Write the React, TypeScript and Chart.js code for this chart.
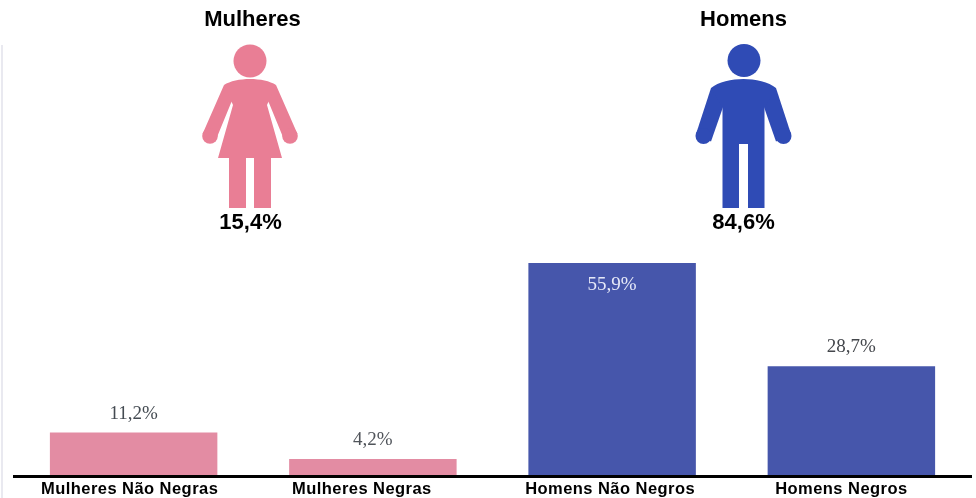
import React, { useEffect, useRef } from "react";
import { Chart, registerables } from "chart.js";

Chart.register(...registerables);

const categories = ["Mulheres Não Negras", "Mulheres Negras", "Homens Não Negros", "Homens Negros"];
const shares = [11.2, 4.2, 55.9, 28.7];
const shareLabels = ["11,2%", "4,2%", "55,9%", "28,7%"];
const barColors = ["#E38CA3", "#E38CA3", "#4656AB", "#4656AB"];
const labelColors = ["#444b52", "#50545a", "#e6e9f8", "#44474c"];
const labelInside = [false, false, true, false];
const tickShift = [-4, -11, -2, -10];
const groupTitles = ["Mulheres", "Homens"];
const groupTotals = ["15,4%", "84,6%"];

const SANS = '"Liberation Sans", Arial, sans-serif';
const SERIF = '"Liberation Serif", "Times New Roman", serif';

function fillPoly(ctx: CanvasRenderingContext2D, pts: number[][]) {
  ctx.beginPath();
  pts.forEach(([x, y], i) => (i ? ctx.lineTo(x, y) : ctx.moveTo(x, y)));
  ctx.closePath();
  ctx.fill();
}

function drawWoman(ctx: CanvasRenderingContext2D) {
  ctx.fillStyle = "#E97E95";
  ctx.beginPath();
  ctx.arc(250, 61, 16.5, 0, Math.PI * 2);
  ctx.fill();
  const arm = [[276, 85], [297.5, 134], [285, 142], [269, 103], [262, 90]];
  fillPoly(ctx, arm);
  fillPoly(ctx, arm.map(([x, y]) => [500 - x, y]));
  ctx.beginPath();
  ctx.arc(290, 136, 7.8, 0, Math.PI * 2);
  ctx.fill();
  ctx.beginPath();
  ctx.arc(210, 136, 7.8, 0, Math.PI * 2);
  ctx.fill();
  ctx.beginPath();
  ctx.moveTo(224, 85);
  ctx.bezierCurveTo(230, 81, 240, 79, 250, 79);
  ctx.bezierCurveTo(260, 79, 270, 81, 276, 85);
  ctx.lineTo(267, 105);
  ctx.lineTo(282, 158);
  ctx.lineTo(271, 158);
  ctx.lineTo(271, 208);
  ctx.lineTo(254, 208);
  ctx.lineTo(254, 158);
  ctx.lineTo(246, 158);
  ctx.lineTo(246, 208);
  ctx.lineTo(229, 208);
  ctx.lineTo(229, 158);
  ctx.lineTo(218, 158);
  ctx.lineTo(233, 105);
  ctx.closePath();
  ctx.fill();
}

function drawMan(ctx: CanvasRenderingContext2D) {
  ctx.fillStyle = "#2F4BB5";
  ctx.beginPath();
  ctx.arc(744, 60.5, 16.5, 0, Math.PI * 2);
  ctx.fill();
  const arm = [[711, 88], [696, 134], [711, 141.5], [722.7, 108], [722.7, 88]];
  fillPoly(ctx, arm);
  fillPoly(ctx, arm.map(([x, y]) => [1487 - x, y]));
  ctx.beginPath();
  ctx.arc(703.5, 136, 8, 0, Math.PI * 2);
  ctx.fill();
  ctx.beginPath();
  ctx.arc(783.5, 136, 8, 0, Math.PI * 2);
  ctx.fill();
  ctx.beginPath();
  ctx.moveTo(711, 88);
  ctx.bezierCurveTo(718, 82, 732, 79, 743.5, 79);
  ctx.bezierCurveTo(755, 79, 769, 82, 776, 88);
  ctx.lineTo(764.5, 108);
  ctx.lineTo(764.5, 208);
  ctx.lineTo(748, 208);
  ctx.lineTo(748, 144);
  ctx.lineTo(739, 144);
  ctx.lineTo(739, 208);
  ctx.lineTo(722.5, 208);
  ctx.lineTo(722.5, 108);
  ctx.closePath();
  ctx.fill();
}

const overlay = {
  id: "overlay",
  afterDraw(chart: any) {
    const { ctx, scales } = chart;
    ctx.save();
    // faint frame edge at the far left
    ctx.strokeStyle = "#e9e9f0";
    ctx.lineWidth = 2;
    ctx.beginPath();
    ctx.moveTo(2, 45);
    ctx.lineTo(2, 498);
    ctx.stroke();

    drawWoman(ctx);
    drawMan(ctx);

    ctx.textAlign = "center";
    ctx.textBaseline = "middle";
    ctx.fillStyle = "#000";
    ctx.font = `bold 22px ${SANS}`;
    ctx.letterSpacing = "0px";
    ctx.fillText(groupTitles[0], 252.5, 19.5);
    ctx.fillText(groupTitles[1], 743.5, 19.5);
    ctx.fillText(groupTotals[0], 250.5, 222.5);
    ctx.fillText(groupTotals[1], 743.5, 223);

    // x-axis names
    ctx.font = `bold 16.5px ${SANS}`;
    ctx.letterSpacing = "0.45px";
    categories.forEach((name, i) => {
      ctx.fillText(name, scales.x.getPixelForTick(i) + tickShift[i], 489);
    });
    ctx.letterSpacing = "0px";

    // value labels
    ctx.font = `19px ${SERIF}`;
    const bars = chart.getDatasetMeta(0).data;
    bars.forEach((bar: any, i: number) => {
      ctx.fillStyle = labelColors[i];
      ctx.fillText(shareLabels[i], bar.x, bar.y + (labelInside[i] ? 22 : -19));
    });
    ctx.restore();
  },
};

export default function App() {
  const ref = useRef<HTMLCanvasElement>(null);
  useEffect(() => {
    document.body.style.margin = "0";
    document.body.style.background = "#fff";
    const chart = new Chart(ref.current as HTMLCanvasElement, {
      type: "bar",
      data: {
        labels: categories,
        datasets: [
          {
            data: shares,
            backgroundColor: barColors,
            categoryPercentage: 1,
            barPercentage: 0.7,
            borderWidth: 0,
          },
        ],
      },
      options: {
        responsive: false,
        animation: false,
        layout: { padding: { left: 14, right: 5, top: 0, bottom: 0 } },
        plugins: { legend: { display: false }, tooltip: { enabled: false } },
        scales: {
          x: {
            grid: { display: false },
            border: { color: "#000", width: 3 },
            ticks: { display: false },
            afterFit: (s: any) => {
              s.height = 22;
            },
          },
          y: { display: false, min: -0.26, max: 125.3 },
        },
      },
      plugins: [overlay],
    });
    return () => chart.destroy();
  }, []);
  return (
    <div style={{ width: 976, height: 498, overflow: "hidden" }}>
      <canvas ref={ref} width={976} height={498} style={{ display: "block" }} />
    </div>
  );
}
